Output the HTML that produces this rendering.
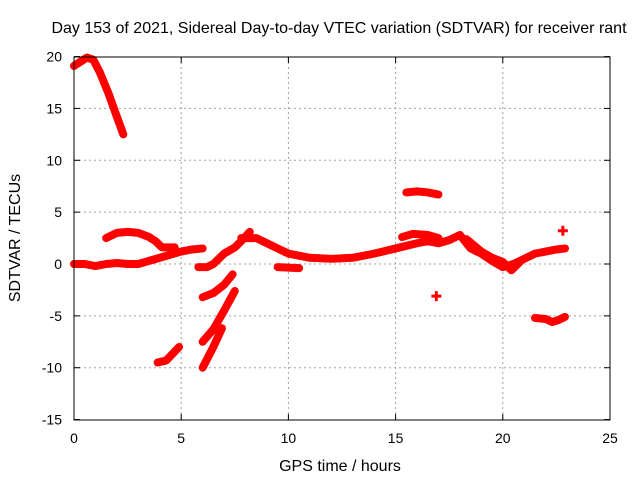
<!DOCTYPE html>
<html><head><meta charset="utf-8"><style>
body{margin:0;background:#fff}
svg{display:block;font-family:"Liberation Sans",sans-serif;font-size:14px}
</style></head><body>
<svg id="c" width="640" height="480">
<text x="339" y="33" text-anchor="middle" font-size="16">Day 153 of 2021, Sidereal Day-to-day VTEC variation (SDTVAR) for receiver rant</text>
<text x="340" y="471" text-anchor="middle" font-size="16">GPS time / hours</text>
<text transform="translate(20,238) rotate(-90)" text-anchor="middle" font-size="16">SDTVAR / TECUs</text>
<g id="grid"></g><g id="ticks"></g><g id="data"></g>
<rect x="74" y="57" width="536" height="363" fill="none" stroke="#000" stroke-width="1"/>
</svg>
<script>
const xTicks=[0,5,10,15,20,25];
const yTicks=[-15,-10,-5,0,5,10,15,20];
const segA=[[0,19.1],[0.3,19.5],[0.6,19.9],[0.9,19.7],[1.2,18.5],[1.6,16.5],[2.0,14.2],[2.3,12.5]];
const segB=[[0,0],[0.5,0],[1,-0.2],[1.5,0],[2,0.1],[2.5,0],[3,0],[3.5,0.3],[4,0.6],[4.5,0.9],[5,1.2],[5.5,1.4],[6,1.5]];
const segC=[[1.5,2.5],[2,3],[2.5,3.1],[3,3],[3.5,2.6],[3.8,2.2],[4.1,1.6],[4.7,1.6]];
const segD=[[5.8,-0.3],[6.2,-0.3],[6.5,0],[7,1],[7.5,1.6],[7.8,2.2],[8.2,3.1]];
const segE=[[7.8,2.5],[8.5,2.5],[9,2],[9.5,1.5],[10,1],[10.5,0.8],[11,0.6],[12,0.5],[13,0.6],[14,1.0],[15,1.5],[16,2.0],[16.5,2.2],[17,2.0],[17.5,2.3],[18,2.8],[18.5,1.5],[19,1.0],[19.5,0.3],[20,-0.3],[20.5,0],[21,0.5],[21.5,1.0],[22,1.2],[22.5,1.4],[22.9,1.5]];
const segE2=[[15.3,2.6],[15.8,2.9],[16.5,2.8],[17,2.5]];
const segE3=[[18.3,2.4],[19,1.2],[19.5,0.6],[20,0.2],[20.4,-0.6],[20.8,0.2]];
const segF=[[9.5,-0.3],[10.5,-0.4]];
const segG=[[6,-3.2],[6.5,-2.8],[7,-2],[7.4,-1]];
const segH=[[6,-7.5],[6.5,-6.3],[7,-4.5],[7.5,-2.6]];
const segI=[[6,-10],[6.5,-8],[6.9,-6.2]];
const segJ=[[3.9,-9.5],[4.3,-9.3],[4.9,-8]];
const segK=[[15.5,6.9],[16,7],[16.5,6.9],[17,6.7]];
const segL=[[21.5,-5.2],[22,-5.3],[22.3,-5.6],[22.6,-5.4],[22.9,-5.1]];
const isolated=[[16.9,-3.1],[22.8,3.2]];
const segments=[segA,segB,segC,segD,segE,segE2,segE3,segF,segG,segH,segI,segJ,segK,segL];
const X=h=>74+h*536/25, Y=v=>264-v*363/35;
const NS="http://www.w3.org/2000/svg";
const mk=(t,a,p)=>{const e=document.createElementNS(NS,t);for(const k in a)e.setAttribute(k,a[k]);p.appendChild(e);return e;};
const grid=document.getElementById('grid'),ticks=document.getElementById('ticks'),data=document.getElementById('data');
xTicks.forEach(t=>{
  if(t>0&&t<25){const l=mk('line',{x1:X(t),x2:X(t),y1:57,y2:420,stroke:'#a0a0a0','stroke-dasharray':'2,3'},grid);
  
  }
  mk('line',{x1:X(t),x2:X(t),y1:420,y2:414,stroke:'#000'},ticks);
  mk('line',{x1:X(t),x2:X(t),y1:57,y2:63,stroke:'#000'},ticks);
  const tx=mk('text',{x:X(t),y:443,'text-anchor':'middle'},ticks);tx.textContent=t;
  
  
});
yTicks.forEach(t=>{
  if(t>-15&&t<20){const l=mk('line',{x1:74,x2:610,y1:Y(t),y2:Y(t),stroke:'#a0a0a0','stroke-dasharray':'2,3'},grid);
  
  }
  mk('line',{x1:74,x2:80,y1:Y(t),y2:Y(t),stroke:'#000'},ticks);
  mk('line',{x1:610,x2:604,y1:Y(t),y2:Y(t),stroke:'#000'},ticks);
  const tx=mk('text',{x:62,y:Y(t)+5,'text-anchor':'end'},ticks);tx.textContent=t;
  
  
});
segments.forEach(s=>{
  const p=mk('polyline',{points:s.map(d=>X(d[0])+','+Y(d[1])).join(' '),fill:'none',stroke:'#f00','stroke-width':8,'stroke-linejoin':'round','stroke-linecap':'round'},data);
  
  
});
isolated.forEach(d=>{
  const g=mk('path',{d:`M${X(d[0])-5},${Y(d[1])}h10M${X(d[0])},${Y(d[1])-5}v10`,stroke:'#f00','stroke-width':3},data);
  
  
});
</script>
</body></html>
